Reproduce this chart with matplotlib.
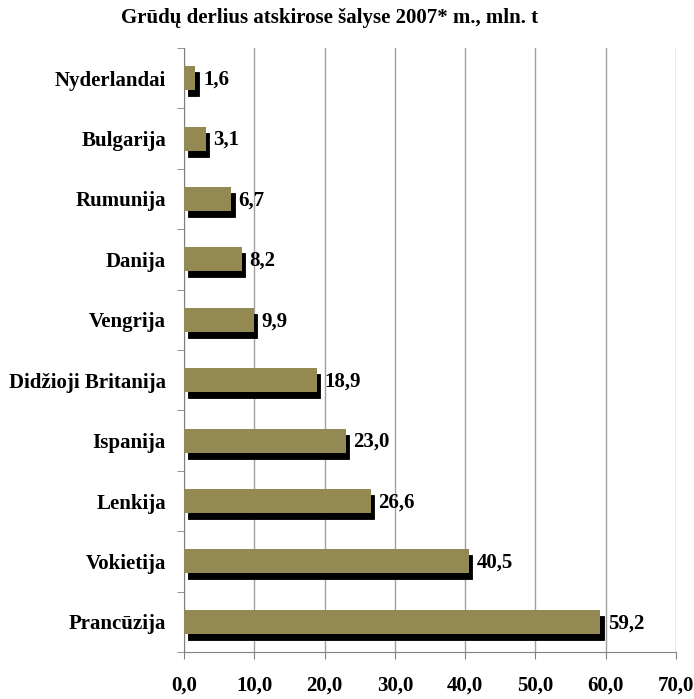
import matplotlib
matplotlib.use("Agg")
import matplotlib.pyplot as plt
import matplotlib.transforms as mtransforms
import numpy as np

categories = ["Prancūzija", "Vokietija", "Lenkija", "Ispanija", "Didžioji Britanija",
              "Vengrija", "Danija", "Rumunija", "Bulgarija", "Nyderlandai"]
values = [59.2, 40.5, 26.6, 23.0, 18.9, 9.9, 8.2, 6.7, 3.1, 1.6]
xticks = [0, 10, 20, 30, 40, 50, 60, 70]
title = "Grūdų derlius atskirose šalyse 2007* m., mln. t"

plt.rcParams['font.family'] = ['Liberation Serif', 'DejaVu Serif']
plt.rcParams['font.weight'] = 'bold'

fig = plt.figure(figsize=(6.94, 6.99), dpi=100)
ax = fig.add_axes([184/694, 1-652/699, (676-184)/694, (652-48)/699])

y = np.arange(len(categories))
bh = 0.4
shadow = mtransforms.offset_copy(ax.transData, fig=fig, x=3.5, y=-6, units='dots')
ax.barh(y, values, height=bh, color='black', edgecolor='black', linewidth=0.6,
        transform=shadow, zorder=2)
ax.barh(y, values, height=bh, color='#938953', zorder=3)

for yi, v in zip(y, values):
    ax.annotate(f"{v:.1f}".replace('.', ','), (v, yi), xytext=(5.5, -1),
                textcoords='offset points', va='center', ha='left',
                fontsize=15, fontweight='bold', zorder=4)

ax.set_xlim(0, 70)
ax.set_ylim(-0.5, len(categories) - 0.5)
ax.set_xticks(xticks)
ax.set_xticklabels([f"{t:.1f}".replace('.', ',') for t in xticks], fontsize=15, fontweight='bold')
ax.set_yticks(y)
ax.set_yticklabels(categories, fontsize=15, fontweight='bold')
ax.set_yticks(np.arange(-0.5, len(categories), 1), minor=True)
ax.tick_params(axis='y', which='major', length=0, pad=13)
ax.tick_params(axis='y', which='minor', length=5, color='#808080')
ax.tick_params(axis='x', length=5, color='#808080', pad=12)
ax.grid(axis='x', color='#a0a0a0', linewidth=1, zorder=0)
ax.set_axisbelow(True)
for s in ['top', 'right']:
    ax.spines[s].set_visible(False)
for s in ['left', 'bottom']:
    ax.spines[s].set_color('#808080')

fig.text(330/694, 1-18/699, title, ha='center', va='center', fontsize=15, fontweight='bold')

fig.savefig("out.png", dpi=100)
